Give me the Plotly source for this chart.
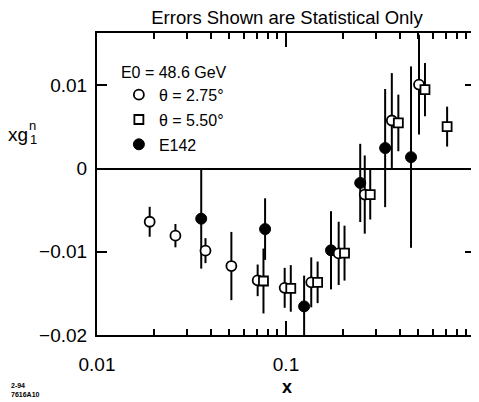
import plotly.graph_objects as go

# theta = 2.75 deg (open circles)
x_275 = [0.019, 0.026, 0.0375, 0.0514, 0.0708, 0.0984, 0.136, 0.190, 0.261, 0.363, 0.5055]
y_275 = [-0.00639, -0.00806, -0.00986, -0.01171, -0.01343, -0.01433, -0.01367, -0.01019, -0.00312, 0.00578, 0.0101]
e_275 = [0.0018, 0.0014, 0.0015, 0.0041, 0.0019, 0.0024, 0.0030, 0.0038, 0.0047, 0.0057, 0.0060]

# theta = 5.50 deg (open squares)
x_550 = [0.076, 0.106, 0.147, 0.204, 0.279, 0.393, 0.5436, 0.712]
y_550 = [-0.01351, -0.0144, -0.01367, -0.01016, -0.00312, 0.00549, 0.00949, 0.00505]
e_550 = [0.0039, 0.0028, 0.0025, 0.0033, 0.0030, 0.0034, 0.0032, 0.0024]

# E142 (filled circles)
x_e142 = [0.0356, 0.0775, 0.1247, 0.173, 0.247, 0.3346, 0.4587]
y_e142 = [-0.00602, -0.00727, -0.01656, -0.00982, -0.00172, 0.00247, 0.00138]
e_e142 = [0.0060, 0.0037, 0.0037, 0.0047, 0.0047, 0.0071, 0.0109]

x_tickvals = [0.01, 0.1, 1]
x_ticktext = ["0.01", "0.1", "1"]
y_tickvals = [-0.02, -0.01, 0, 0.01]
y_ticktext = ["\u22120.02", "\u22120.01", "0", "0.01"]
x_minor = [k * 10 ** e for e in (-2, -1) for k in range(2, 10)]

FONT = "Liberation Sans, Arial, sans-serif"

# the page body has an 8px margin; size the figure so it ends at the window edge
OFF = 8
W, H = 479 - OFF, 402 - OFF

fig = go.Figure()

eb = lambda arr: dict(type="data", array=arr, visible=True, color="black", thickness=2, width=0)

fig.add_trace(go.Scatter(
    x=x_e142, y=y_e142, mode="markers", name="E142", legendrank=3,
    legendgroup="c", error_y=eb(e_e142),
    marker=dict(symbol="circle", size=11, color="black", line=dict(color="black", width=1)),
))
fig.add_trace(go.Scatter(
    x=x_275, y=y_275, mode="markers", name="\u03b8 = 2.75\u00b0", legendrank=1,
    legendgroup="a", error_y=eb(e_275),
    marker=dict(symbol="circle", size=10, color="white", line=dict(color="black", width=1.8)),
))
fig.add_trace(go.Scatter(
    x=x_550, y=y_550, mode="markers", name="\u03b8 = 5.50\u00b0", legendrank=2,
    legendgroup="b", error_y=eb(e_550),
    marker=dict(symbol="square", size=9, color="white", line=dict(color="black", width=1.8)),
))

fig.update_layout(
    width=W, height=H,
    margin=dict(l=97 - OFF, r=2, t=33 - OFF, b=67),
    paper_bgcolor="white", plot_bgcolor="white",
    font=dict(family=FONT, color="black", size=19),
    title=dict(text="Errors Shown are Statistical Only", x=(287 - OFF) / W, xanchor="center",
               y=1 - (18 - OFF) / H, yanchor="middle", font=dict(size=18.5, family=FONT)),
    showlegend=True,
    legend=dict(
        x=(119 - 97) / 380, y=(335 - 57) / 302, xanchor="left", yanchor="top",
        bgcolor="rgba(0,0,0,0)", font=dict(size=16, family=FONT),
        title=dict(text="E0 = 48.6 GeV", font=dict(size=16, family=FONT)),
        traceorder="grouped", tracegroupgap=1,
    ),
    xaxis=dict(
        type="log", range=[-2, 0],
        tickmode="array", tickvals=x_tickvals, ticktext=x_ticktext,
        ticks="inside", ticklen=14, tickwidth=1.5, tickcolor="black",
        minor=dict(tickmode="array", tickvals=x_minor, ticks="inside", ticklen=6,
                   tickwidth=1.5, tickcolor="black", showgrid=False),
        showline=True, linecolor="black", linewidth=2, mirror="ticks",
        showgrid=False, zeroline=False, ticklabelstandoff=11,
        tickfont=dict(size=19, family=FONT),
    ),
    yaxis=dict(
        range=[-0.02, 0.0163],
        tickmode="array", tickvals=y_tickvals, ticktext=y_ticktext,
        ticks="inside", ticklen=10, tickwidth=1.5, tickcolor="black",
        showline=True, linecolor="black", linewidth=2, mirror="ticks",
        showgrid=False, zeroline=True, zerolinecolor="black", zerolinewidth=1.5,
        ticklabelstandoff=4,
        tickfont=dict(size=19, family=FONT),
    ),
)

def px_x(p):
    return (p - 97) / 380

def px_y(p):
    return (335 - p) / 302

annots = [
    dict(text="xg", x=px_x(18), y=px_y(135), font=dict(size=19, family=FONT)),
    dict(text="n", x=px_x(32), y=px_y(125), font=dict(size=13, family=FONT)),
    dict(text="1", x=px_x(33), y=px_y(139), font=dict(size=13, family=FONT)),
    dict(text="<b>x</b>", x=px_x(288), y=px_y(387), font=dict(size=18, family=FONT)),
    dict(text="<b>2-94<br>7616A10</b>", x=px_x(9), y=px_y(390), xanchor="left",
         font=dict(size=7, family=FONT), align="left"),
]
for a in annots:
    a.setdefault("xanchor", "center")
    fig.add_annotation(xref="paper", yref="paper", showarrow=False, yanchor="middle", **a)

fig.write_html("out.html")
